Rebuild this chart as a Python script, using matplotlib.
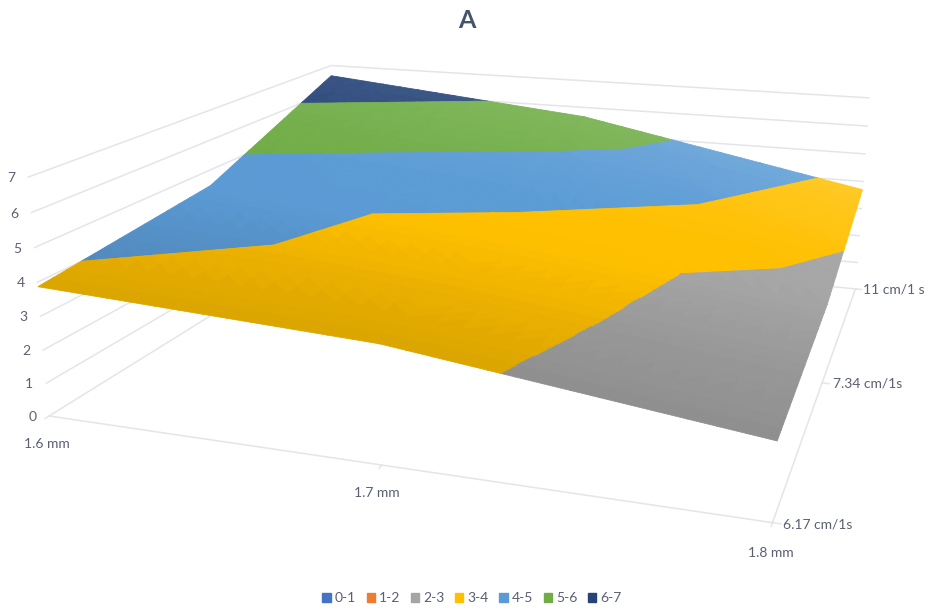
import numpy as np
import matplotlib
matplotlib.use('Agg')
import matplotlib.pyplot as plt
from matplotlib.patches import Patch
from mpl_toolkits.mplot3d import proj3d
from mpl_toolkits.mplot3d.art3d import Poly3DCollection

plt.rcParams['font.family'] = ['Lato', 'DejaVu Sans']

W, H = 928, 609

diameter_labels = ['1.6 mm', '1.7 mm', '1.8 mm']
speed_labels = ['6.17 cm/1s', '7.34 cm/1s', '11 cm/1 s']

# one row per speed, one column per diameter
row_617 = [3.87, 3.40, 2.15]
row_734 = [4.47, 3.65, 2.50]
row_11 = [6.60, 5.65, 3.70]
values = np.array([row_617, row_734, row_11])

band_labels = ['0-1', '1-2', '2-3', '3-4', '4-5', '5-6', '6-7']
band_colors = ['#4472c4', '#ed7d31', '#a5a5a5', '#ffc000', '#5b9bd5', '#70ad47', '#264478']
z_ticks = [0, 1, 2, 3, 4, 5, 6, 7]

text_color = '#5a6072'
grid_color = '#e3e5ea'

# the two triangles of each cell, the diagonals form a diamond around the centre
triangles = [
    [(0, 0), (1, 0), (0, 1)], [(1, 0), (1, 1), (0, 1)],
    [(1, 0), (2, 0), (2, 1)], [(1, 0), (2, 1), (1, 1)],
    [(0, 1), (1, 1), (1, 2)], [(0, 1), (1, 2), (0, 2)],
    [(1, 1), (2, 1), (1, 2)], [(2, 1), (2, 2), (1, 2)],
]


def subdivide(tri, n=14):
    """Split a triangle into n*n small ones so the shading can vary across it."""
    a, b, c = [np.array([x, y, values[y, x]], float) for x, y in tri]
    pt = lambda i, j: a + (b - a) * i / n + (c - a) * j / n
    out = []
    for i in range(n):
        for j in range(n - i):
            out.append([pt(i, j), pt(i + 1, j), pt(i, j + 1)])
            if i + j < n - 1:
                out.append([pt(i + 1, j), pt(i + 1, j + 1), pt(i, j + 1)])
    return out


def clip(poly, lo, hi):
    """Keep the part of a polygon with z between lo and hi."""
    for level, sign in ((lo, 1), (hi, -1)):
        kept = []
        for k, p in enumerate(poly):
            q = poly[(k + 1) % len(poly)]
            dp, dq = sign * (p[2] - level), sign * (q[2] - level)
            if dp >= 0:
                kept.append(p)
            if dp * dq < 0:
                kept.append(p + (q - p) * dp / (dp - dq))
        poly = kept
        if len(poly) < 3:
            return []
    return poly


def shaded(color, x, y):
    """Darker at the front of the surface, paler towards the back."""
    c = np.array(matplotlib.colors.to_rgb(color))
    s = 0.86 + 0.14 * min(y, 1) + 0.1 * max(y - 1.3, 0) / 0.7 + 0.03 * x * max(y - 1, 0)
    s = round(s / 0.012) * 0.012  # steps instead of a per-triangle change, hides the mesh
    if s <= 1:
        return c * s
    return c + (1 - c) * (s - 1) * 0.9


fig = plt.figure(figsize=(W / 100, H / 100), dpi=100)
cx, cy, size = 488.26, 356.0, 894.53
ax = fig.add_axes([(cx - size / 2) / W, (cy - size / 2) / H, size / W, size / H], projection='3d')
ax.set_xlim(0, 2, view_margin=0)
ax.set_ylim(0, 2, view_margin=0)
ax.set_zlim(0, 7, view_margin=0)
ax.view_init(16.083, -71.45, -0.146)
ax.set_proj_type('persp', focal_length=0.3103)
ax.set_box_aspect((1, 0.9504, 0.3407), zoom=1)
ax.set_axis_off()
ax.computed_zorder = False

# wall gridlines and floor edges, the left end sits outside the square axes box
for z in z_ticks:
    ax.plot([0, 0, 2], [0, 2, 2], [z, z, z], color=grid_color, lw=1.1, zorder=1, clip_on=False)
ax.plot([0, 2, 2], [0, 0, 2], [0, 0, 0], color=grid_color, lw=1.1, zorder=1, clip_on=False)

# tick marks on the floor edges
for i in range(3):
    ax.plot([i, i], [0, -0.02], [0, 0], color=grid_color, lw=1.1, zorder=1, clip_on=False)
    ax.plot([2, 2.02], [i, i], [0, 0], color=grid_color, lw=1.1, zorder=1, clip_on=False)

# surface, one set of polygons per value band
polys, colors = [], []
for tri in triangles:
    for small in subdivide(tri):
        mx, my = np.mean(small, axis=0)[:2]
        for k, color in enumerate(band_colors):
            part = clip(small, k, k + 1)
            if part:
                polys.append(part)
                colors.append(shaded(color, mx, my))
surface = Poly3DCollection(polys, facecolors=colors, edgecolors=colors, linewidths=0.6, zorder=2)
surface.set_clip_on(False)
ax.add_collection3d(surface)


def label(x, y, z, text, dx, dy, ha='center'):
    """Text placed a few pixels away from a point in chart coordinates."""
    px, py, _ = proj3d.proj_transform(x, y, z, ax.get_proj())
    ax.annotate(text, (px, py), xytext=(dx, -dy), textcoords='offset pixels', annotation_clip=False,
                ha=ha, va='center', fontsize=10, color=text_color, zorder=5)


for z in z_ticks:
    label(0, 0, z, str(z), -17, 1)
label(0, 0, 0, diameter_labels[0], -2, 28)
label(1, 0, 0, diameter_labels[1], -5, 28)
label(2, 0, 0, diameter_labels[2], -2, 30)
label(2, 0, 0, speed_labels[0], 11, 2, ha='left')
label(2, 1, 0, speed_labels[1], 11, 1, ha='left')
label(2, 2, 0, speed_labels[2], 8, 1, ha='left')

fig.text(467 / W, 1 - 21 / H, 'A', ha='center', va='center', fontsize=18, fontweight='bold', color='#44546a')

handles = [Patch(color=c, label=l) for c, l in zip(band_colors, band_labels)]
fig.legend(handles=handles, loc='center', bbox_to_anchor=(472 / W, 1 - 598 / H), ncol=7, frameon=False,
           fontsize=10, labelcolor=text_color, handlelength=0.6, handleheight=0.6, handletextpad=0.3,
           columnspacing=0.75, borderpad=0)

fig.savefig('out.png', dpi=100)
